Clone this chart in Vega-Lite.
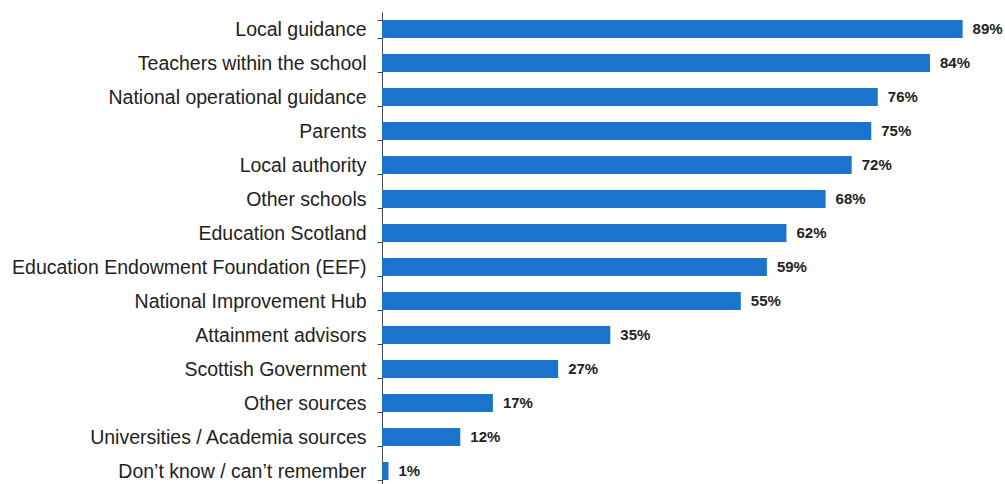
{
  "$schema": "https://vega.github.io/schema/vega-lite/v6.json",
  "autosize": {"type": "none"},
  "padding": {"left": 382, "top": 12, "right": 0, "bottom": 0},
  "width": 623,
  "height": 476,
  "background": "white",
  "data": {"values": [
    {"source": "Local guidance", "pct": 89, "label": "89%"},
    {"source": "Teachers within the school", "pct": 84, "label": "84%"},
    {"source": "National operational guidance", "pct": 76, "label": "76%"},
    {"source": "Parents", "pct": 75, "label": "75%"},
    {"source": "Local authority", "pct": 72, "label": "72%"},
    {"source": "Other schools", "pct": 68, "label": "68%"},
    {"source": "Education Scotland", "pct": 62, "label": "62%"},
    {"source": "Education Endowment Foundation (EEF)", "pct": 59, "label": "59%"},
    {"source": "National Improvement Hub", "pct": 55, "label": "55%"},
    {"source": "Attainment advisors", "pct": 35, "label": "35%"},
    {"source": "Scottish Government", "pct": 27, "label": "27%"},
    {"source": "Other sources", "pct": 17, "label": "17%"},
    {"source": "Universities / Academia sources", "pct": 12, "label": "12%"},
    {"source": "Don’t know / can’t remember", "pct": 1, "label": "1%"}
  ]},
  "encoding": {
    "y": {"field": "source", "type": "nominal", "sort": null,
      "scale": {"paddingInner": 0.47, "paddingOuter": 0.235},
      "axis": {"title": null, "domainColor": "#444", "tickColor": "#444", "tickSize": 5, "tickBand": "extent",
        "labelFont": "Liberation Sans", "labelFontSize": 19.5, "labelColor": "#222", "labelPadding": 11, "labelLimit": 400}},
    "x": {"field": "pct", "type": "quantitative", "scale": {"domain": [0, 95.5]}, "axis": null}
  },
  "layer": [
    {"mark": {"type": "bar", "color": "#1a74cc"}},
    {"mark": {"type": "text", "align": "left", "dx": 10, "font": "Liberation Sans", "fontSize": 15, "fontWeight": "bold", "color": "#222"},
     "encoding": {"text": {"field": "label", "type": "nominal"}}}
  ],
  "config": {"view": {"stroke": null}}
}
